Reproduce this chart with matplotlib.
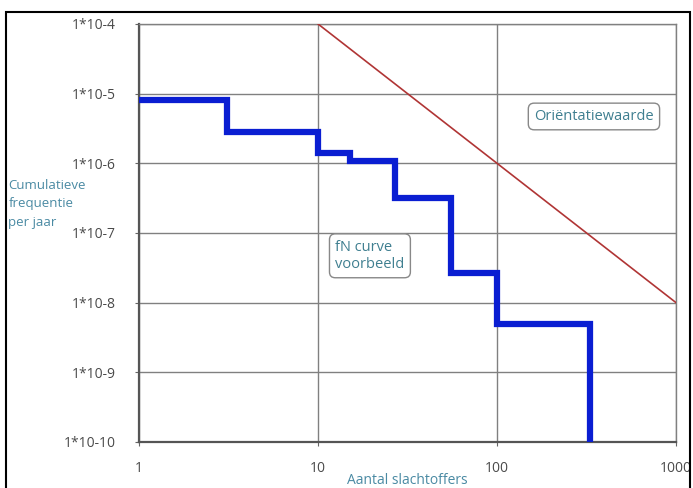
import matplotlib
matplotlib.use("Agg")
import matplotlib.pyplot as plt
from matplotlib.patches import Rectangle

# FN-curve (example) step data
slachtoffers = [1, 3.1, 10, 15, 27, 55, 100, 330]
frequentie = [8.2e-6, 2.8e-6, 1.4e-6, 1.07e-6, 3.2e-7, 2.7e-8, 5e-9, 1e-10]

# orientation value line
orient_n = [10, 1000]
orient_f = [1e-4, 1e-8]

x_ticks = [1, 10, 100, 1000]
x_labels = ["1", "10", "100", "1000"]
y_ticks = [1e-4, 1e-5, 1e-6, 1e-7, 1e-8, 1e-9, 1e-10]
y_labels = ["1*10-4", "1*10-5", "1*10-6", "1*10-7", "1*10-8", "1*10-9", "1*10-10"]

GRIJS = "#4a4a4a"
TEAL = "#4a8aa3"

plt.rcParams['font.family'] = ['Open Sans', 'DejaVu Sans']

def main():
    fig = plt.figure(figsize=(6.93, 4.88), dpi=100)
    ax = fig.add_axes([0.2006, 0.0943, 0.7749, 0.8566])

    # outer frame
    fig.patches.append(Rectangle((0.009, -0.02), 0.987, 0.996, transform=fig.transFigure,
                                 fill=False, edgecolor="black", linewidth=1.5))

    ax.set_xscale("log")
    ax.set_yscale("log")
    ax.set_xlim(1, 1000)
    ax.set_ylim(1e-10, 1e-4)

    ax.step(slachtoffers, frequentie, where="post", color="#0a1ed2", linewidth=4.5,
            solid_joinstyle="miter", solid_capstyle="butt", zorder=3)
    ax.plot(orient_n, orient_f, color="#b03535", linewidth=1.2, zorder=3)

    ax.set_xticks(x_ticks)
    ax.set_xticklabels(x_labels)
    ax.set_yticks(y_ticks)
    ax.set_yticklabels(y_labels)
    ax.minorticks_off()
    ax.tick_params(axis="both", colors="#666666", labelcolor=GRIJS, labelsize=10, length=3)
    ax.tick_params(axis="y", pad=14)
    ax.tick_params(axis="x", pad=11)

    ax.grid(True, color="#808080", linewidth=1)
    for kant in ["top", "right"]:
        ax.spines[kant].set_color("#808080")
        ax.spines[kant].set_linewidth(1)
    for kant in ["left", "bottom"]:
        ax.spines[kant].set_color("#555555")
        ax.spines[kant].set_linewidth(1.6)

    box = dict(boxstyle="round,pad=0.4", facecolor="white", edgecolor="#888888", linewidth=1)
    ax.text(348, 4.7e-6, "Oriëntatiewaarde", color="#3f7f90", fontsize=10.5,
            ha="center", va="center", bbox=box, zorder=4)
    ax.text(19.5, 4.7e-8, "fN curve\nvoorbeeld", color="#3f7f90", fontsize=10.5,
            ha="center", va="center", multialignment="left", bbox=box, zorder=4)

    fig.text(0.012, 0.582, "Cumulatieve\nfrequentie\nper jaar", color=TEAL, fontsize=9.5,
             ha="left", va="center", linespacing=1.55)
    fig.text(0.588, 0.016, "Aantal slachtoffers", color=TEAL, fontsize=10,
             ha="center", va="center")

    fig.savefig("out.png", dpi=100)

if __name__ == "__main__":
    main()
